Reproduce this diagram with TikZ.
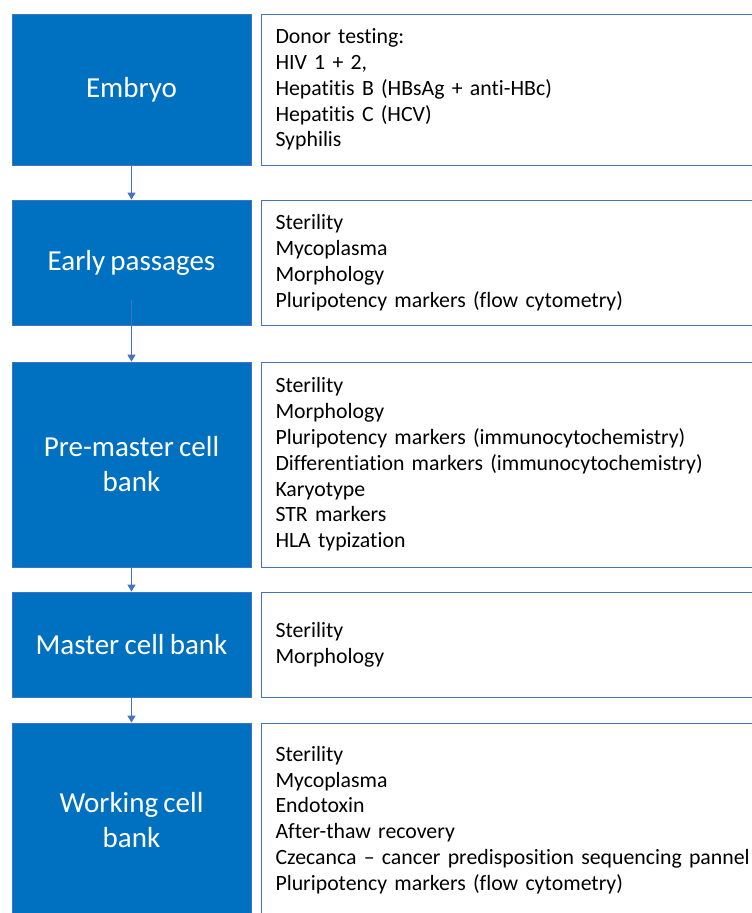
\documentclass[tikz,border=0pt]{standalone}
\usepackage{fontspec}
\setmainfont{Carlito}[Ligatures = NoCommon, WordSpace = 0.8]
\usetikzlibrary{arrows.meta}
\definecolor{stage blue}{HTML}{0070C0}
\definecolor{line blue}{HTML}{4472C4}

\begin{document}
\begin{tikzpicture}[x = 1pt, y = -1pt,
    stage/.style = {fill = stage blue, draw = line blue, line width = 0.8pt,
      minimum width = 239pt, text = white, align = center,
      font = \fontsize{29}{35}\selectfont},
    tests/.style = {draw = line blue, line width = 1pt, fill = white, anchor = west,
      minimum width = 510pt, text width = 482pt, inner xsep = 14pt, align = left,
      font = \fontsize{21.8}{25.8}\selectfont},
    flow/.style = {draw = line blue, line width = 1pt,
      -{Triangle[length = 7pt, width = 8pt]}}]
  \useasboundingbox (0, 0) rectangle (752, 913);
  \clip (0, 0) rectangle (752, 913);
  \fill[white] (0, 0) rectangle (752, 913);

  % stages
  \node[stage, minimum height = 151pt] (embryo) at (131.5, 89.5) {Embryo};
  \node[stage, minimum height = 125pt] (early) at (131.5, 262.5) {Early passages};
  \node[stage, minimum height = 205pt] (premaster) at (131.5, 464.5) {Pre-master cell\\bank};
  \node[stage, minimum height = 105pt] (master) at (131.5, 644.5) {Master cell bank};
  \node[stage, minimum height = 194pt] (working) at (131.5, 820) {Working cell\\bank};

  % tests
  \node[tests, minimum height = 151pt] (embryo tests) at (261, 89.5) {%
    Donor testing:\\
    HIV 1 + 2,\\
    Hepatitis B (HBsAg + anti-HBc)\\
    Hepatitis C (HCV)\\
    Syphilis};
  \node[tests, minimum height = 125pt] (early tests) at (261, 262.5) {%
    Sterility\\
    Mycoplasma\\
    Morphology\\
    Pluripotency markers (flow cytometry)};
  \node[tests, minimum height = 205pt] (premaster tests) at (261, 464.5) {%
    Sterility\\
    Morphology\\
    Pluripotency markers (immunocytochemistry)\\
    Differentiation markers (immunocytochemistry)\\
    Karyotype\\
    STR markers\\
    HLA typization};
  \node[tests, minimum height = 105pt] (master tests) at (261, 644.5) {%
    Sterility\\
    Morphology};
  \node[tests, minimum height = 194pt] (working tests) at (261, 820) {%
    Sterility\\
    Mycoplasma\\
    Endotoxin\\
    After-thaw recovery\\
    Czecanca -- cancer predisposition sequencing pannel\\
    Pluripotency markers (flow cytometry)};

  % arrows
  \draw[flow] (embryo.south) -- (early.north);
  \draw[flow] ([yshift = 25pt]early.south) -- (premaster.north);
  \draw[flow] (premaster.south) -- (master.north);
  \draw[flow] (master.south) -- (working.north);
\end{tikzpicture}
\end{document}
